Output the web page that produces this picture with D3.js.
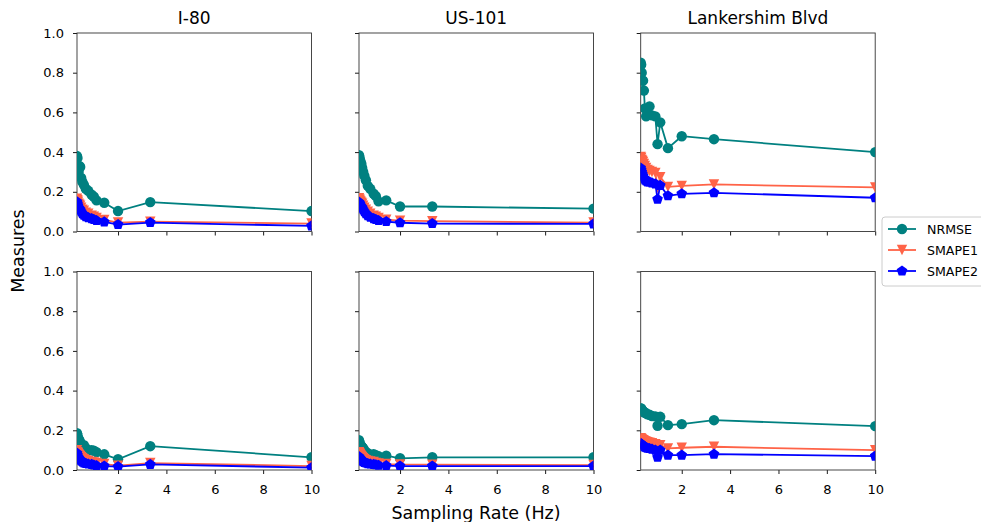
<!DOCTYPE html>
<html><head><meta charset="utf-8">
<script src="https://cdn.jsdelivr.net/npm/d3@7"></script>
<style>
body{margin:0;background:#fff}
text{font-family:"DejaVu Sans",sans-serif;fill:#000}
</style>
</head><body>
<svg id="c" width="981" height="522"></svg>
<script>
// ---------- data ----------
const rates = [10, 3.333, 2, 1.429, 1.111, 1.0, 0.909, 0.769, 0.667, 0.588, 0.526, 0.476, 0.435, 0.4, 0.37, 0.345, 0.323, 0.303];
const titles = ["I-80", "US-101", "Lankershim Blvd"];
const seriesNames = ["NRMSE", "SMAPE1", "SMAPE2"];
const xTicks = [2, 4, 6, 8, 10];
const yTicks = [0, 0.2, 0.4, 0.6, 0.8, 1.0];

const i80TopNRMSE  = [0.103, 0.148, 0.103, 0.145, 0.157, 0.175, 0.185, 0.205, 0.215, 0.235, 0.25, 0.27, 0.325, 0.33, 0.30, 0.31, 0.37, 0.38];
const i80TopSMAPE1 = [0.04, 0.05, 0.045, 0.058, 0.068, 0.075, 0.08, 0.09, 0.095, 0.105, 0.11, 0.12, 0.13, 0.135, 0.14, 0.15, 0.158, 0.165];
const i80TopSMAPE2 = [0.028, 0.045, 0.035, 0.048, 0.055, 0.06, 0.065, 0.07, 0.075, 0.082, 0.09, 0.1, 0.11, 0.115, 0.12, 0.13, 0.14, 0.15];

const usTopNRMSE  = [0.115, 0.126, 0.126, 0.157, 0.152, 0.178, 0.19, 0.215, 0.23, 0.258, 0.28, 0.3, 0.32, 0.34, 0.35, 0.36, 0.375, 0.385];
const usTopSMAPE1 = [0.045, 0.052, 0.055, 0.06, 0.068, 0.075, 0.08, 0.09, 0.1, 0.11, 0.12, 0.13, 0.14, 0.145, 0.15, 0.155, 0.162, 0.168];
const usTopSMAPE2 = [0.038, 0.04, 0.044, 0.05, 0.055, 0.06, 0.065, 0.072, 0.08, 0.09, 0.1, 0.11, 0.12, 0.125, 0.13, 0.138, 0.143, 0.148];

const lkTopNRMSE  = [0.40, 0.465, 0.48, 0.42, 0.55, 0.44, 0.58, 0.585, 0.63, 0.60, 0.58, 0.62, 0.71, 0.76, 0.76, 0.80, 0.84, 0.85];
const lkTopSMAPE1 = [0.222, 0.237, 0.23, 0.225, 0.274, 0.22, 0.295, 0.30, 0.305, 0.31, 0.32, 0.33, 0.34, 0.35, 0.355, 0.36, 0.37, 0.375];
const lkTopSMAPE2 = [0.17, 0.195, 0.19, 0.18, 0.232, 0.162, 0.24, 0.245, 0.25, 0.25, 0.255, 0.26, 0.27, 0.28, 0.29, 0.30, 0.31, 0.32];

const i80BotNRMSE  = [0.064, 0.12, 0.054, 0.079, 0.09, 0.097, 0.1, 0.1, 0.11, 0.125, 0.12, 0.13, 0.14, 0.15, 0.155, 0.16, 0.175, 0.185];
const i80BotSMAPE1 = [0.02, 0.035, 0.022, 0.03, 0.035, 0.038, 0.04, 0.045, 0.05, 0.055, 0.06, 0.065, 0.07, 0.075, 0.08, 0.085, 0.09, 0.1];
const i80BotSMAPE2 = [0.012, 0.028, 0.017, 0.02, 0.022, 0.025, 0.028, 0.03, 0.033, 0.036, 0.04, 0.045, 0.05, 0.055, 0.06, 0.065, 0.075, 0.085];

const usBotNRMSE  = [0.064, 0.064, 0.059, 0.072, 0.07, 0.075, 0.08, 0.075, 0.085, 0.09, 0.1, 0.11, 0.115, 0.12, 0.125, 0.13, 0.14, 0.15];
const usBotSMAPE1 = [0.025, 0.027, 0.028, 0.03, 0.033, 0.036, 0.04, 0.043, 0.046, 0.05, 0.055, 0.06, 0.065, 0.07, 0.075, 0.08, 0.085, 0.09];
const usBotSMAPE2 = [0.02, 0.02, 0.02, 0.022, 0.024, 0.026, 0.028, 0.03, 0.032, 0.035, 0.038, 0.042, 0.046, 0.05, 0.055, 0.058, 0.062, 0.067];

const lkBotNRMSE  = [0.221, 0.251, 0.231, 0.226, 0.268, 0.223, 0.27, 0.272, 0.278, 0.28, 0.285, 0.29, 0.29, 0.295, 0.30, 0.305, 0.31, 0.31];
const lkBotSMAPE1 = [0.1, 0.117, 0.112, 0.109, 0.125, 0.11, 0.13, 0.135, 0.138, 0.14, 0.142, 0.145, 0.148, 0.15, 0.152, 0.155, 0.158, 0.16];
const lkBotSMAPE2 = [0.07, 0.08, 0.075, 0.075, 0.1, 0.064, 0.1, 0.105, 0.108, 0.11, 0.112, 0.115, 0.118, 0.12, 0.125, 0.128, 0.13, 0.134];

const panelData = [
  [[i80TopNRMSE, i80TopSMAPE1, i80TopSMAPE2], [usTopNRMSE, usTopSMAPE1, usTopSMAPE2], [lkTopNRMSE, lkTopSMAPE1, lkTopSMAPE2]],
  [[i80BotNRMSE, i80BotSMAPE1, i80BotSMAPE2], [usBotNRMSE, usBotSMAPE1, usBotSMAPE2], [lkBotNRMSE, lkBotSMAPE1, lkBotSMAPE2]]
];

// ---------- layout / style ----------
const colors = ["#008080", "#FF6347", "#0000FF"];
const colLeft = [77, 359, 640.7];
const panelW = 234.5;
const rowTop = [33, 271.5];
const panelH = 198.5;

const svg = d3.select("#c");

function pentagonPath(r) {
  const pts = d3.range(5).map(i => {
    const a = -Math.PI / 2 + i * 2 * Math.PI / 5;
    return [r * Math.cos(a), r * Math.sin(a)];
  });
  return "M" + pts.map(p => p.join(",")).join("L") + "Z";
}
function markerPath(k) {
  if (k === 0) return d3.symbol().type(d3.symbolCircle).size(Math.PI * 5.2 * 5.2)();
  if (k === 1) return "M0,5.2L-5.2,-5.2L5.2,-5.2Z";
  return pentagonPath(5.6);
}

const defs = svg.append("defs");

for (let r = 0; r < 2; r++) {
  for (let c = 0; c < 3; c++) {
    const xs = d3.scaleLinear().domain([d3.min(rates), 10]).range([colLeft[c], colLeft[c] + panelW]);
    const ys = d3.scaleLinear().domain([0, 1]).range([rowTop[r] + panelH, rowTop[r]]);
    const id = "clip" + r + c;
    defs.append("clipPath").attr("id", id).append("rect")
      .attr("x", colLeft[c]).attr("y", rowTop[r]).attr("width", panelW).attr("height", panelH);

    const g = svg.append("g");
    const xAxis = d3.axisBottom(xs).tickValues(xTicks).tickSize(4).tickPadding(11)
      .tickFormat(r === 1 ? d3.format("d") : () => "");
    const ga = g.append("g").attr("transform", `translate(0,${rowTop[r] + panelH})`).call(xAxis);
    ga.select(".domain").remove();
    ga.selectAll("text").attr("font-size", 13).attr("font-family", "DejaVu Sans");
    ga.selectAll("line").attr("stroke", "#000").attr("stroke-width", 0.9);

    const yAxis = d3.axisLeft(ys).tickValues(yTicks).tickSize(4).tickPadding(9)
      .tickFormat(c === 0 ? d3.format(".1f") : () => "");
    const gy = g.append("g").attr("transform", `translate(${colLeft[c]},0)`).call(yAxis);
    gy.select(".domain").remove();
    gy.selectAll("text").attr("font-size", 13).attr("font-family", "DejaVu Sans");
    gy.selectAll("line").attr("stroke", "#000").attr("stroke-width", 0.9);

    g.append("rect").attr("x", colLeft[c]).attr("y", rowTop[r]).attr("width", panelW).attr("height", panelH)
      .attr("fill", "none").attr("stroke", "#333").attr("stroke-width", 0.9);

    const pg = g.append("g").attr("clip-path", `url(#${id})`);
    panelData[r][c].forEach((vals, k) => {
      const pts = rates.map((rt, i) => [rt, vals[i]]);
      pg.append("path").datum(pts)
        .attr("d", d3.line().x(d => xs(d[0])).y(d => ys(d[1])))
        .attr("fill", "none").attr("stroke", colors[k]).attr("stroke-width", 1.8);
      pg.selectAll(null).data(pts).enter().append("path")
        .attr("d", markerPath(k))
        .attr("transform", d => `translate(${xs(d[0])},${ys(d[1])})`)
        .attr("fill", colors[k]);
    });

    if (r === 0) {
      svg.append("text").attr("x", colLeft[c] + panelW / 2).attr("y", 24)
        .attr("text-anchor", "middle").attr("font-size", 17).text(titles[c]);
    }
  }
}

svg.append("text").attr("x", 476).attr("y", 519).attr("text-anchor", "middle")
  .attr("font-size", 17.5).text("Sampling Rate (Hz)");
svg.append("text").attr("transform", "translate(24,251) rotate(-90)").attr("text-anchor", "middle")
  .attr("font-size", 17.5).text("Measures");

const lg = svg.append("g");
lg.append("rect").attr("x", 882).attr("y", 217).attr("width", 120).attr("height", 69).attr("rx", 3)
  .attr("fill", "#fff").attr("fill-opacity", 0.8).attr("stroke", "#ccc").attr("stroke-width", 1);
seriesNames.forEach((name, k) => {
  const yy = 229 + k * 21;
  lg.append("line").attr("x1", 888).attr("x2", 916).attr("y1", yy).attr("y2", yy)
    .attr("stroke", colors[k]).attr("stroke-width", 1.8);
  lg.append("path").attr("d", markerPath(k)).attr("transform", `translate(902,${yy})`).attr("fill", colors[k]);
  lg.append("text").attr("x", 927).attr("y", yy + 5).attr("font-size", 12.6).text(name);
});
</script>
</body></html>
